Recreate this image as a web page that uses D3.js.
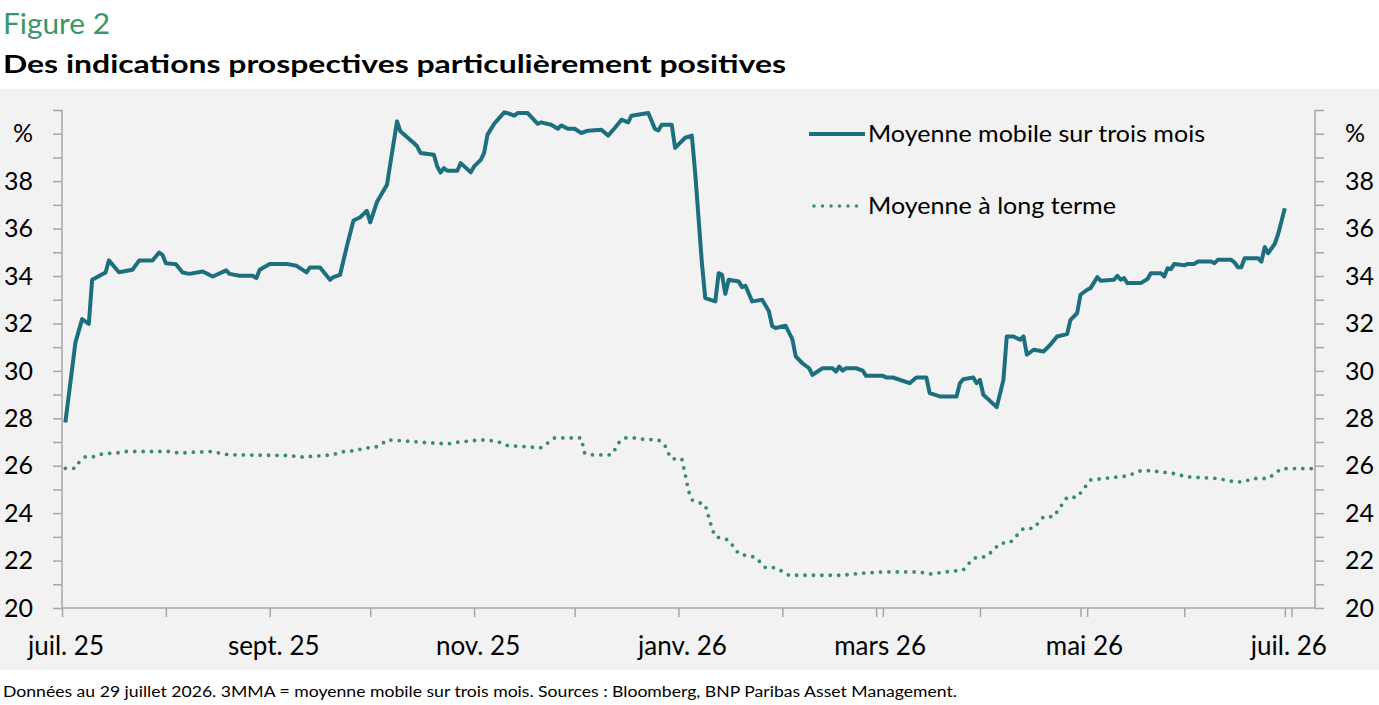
<!DOCTYPE html>
<html><head><meta charset="utf-8">
<script src="https://cdn.jsdelivr.net/npm/d3@7"></script>
<style>
html,body{margin:0;padding:0;background:#fff;}
svg{display:block;font-family:Lato,"Open Sans",sans-serif;}
</style></head>
<body>
<svg id="c" width="1379" height="705"></svg>
<script>
// ---- DATA ----
const titleSmall = "Figure 2";
const titleMain = "Des indications prospectives particulièrement positives";
const footnote = "Données au 29 juillet 2026. 3MMA = moyenne mobile sur trois mois. Sources : Bloomberg, BNP Paribas Asset Management.";
const seriesNames = ["Moyenne mobile sur trois mois", "Moyenne à long terme"];
const xTickLabels = [["2025-07-01","juil. 25"],["2025-09-01","sept. 25"],["2025-11-01","nov. 25"],["2026-01-01","janv. 26"],["2026-03-01","mars 26"],["2026-05-01","mai 26"],["2026-07-01","juil. 26"]];
const extraTicks = ["2026-03-03","2026-05-03","2026-07-03"];
const yTicks = [20,22,24,26,28,30,32,34,36,38];
const yUnitTick = 40;

const mmaData = [
["2025-07-02",27.82],["2025-07-05",31.19],["2025-07-07",32.18],["2025-07-09",31.98],["2025-07-10",33.84],
["2025-07-14",34.15],["2025-07-15",34.66],["2025-07-18",34.16],["2025-07-22",34.26],["2025-07-24",34.65],
["2025-07-28",34.65],["2025-07-30",34.99],["2025-07-31",34.89],["2025-08-01",34.54],["2025-08-04",34.50],
["2025-08-06",34.15],["2025-08-08",34.09],["2025-08-12",34.19],["2025-08-15",33.98],["2025-08-19",34.24],
["2025-08-20",34.09],["2025-08-23",34.01],["2025-08-27",34.01],["2025-08-28",33.91],["2025-08-29",34.26],
["2025-09-01",34.51],["2025-09-06",34.51],["2025-09-09",34.43],["2025-09-12",34.15],["2025-09-13",34.36],
["2025-09-16",34.36],["2025-09-19",33.84],["2025-09-20",33.95],["2025-09-22",34.05],["2025-09-24",35.24],
["2025-09-26",36.34],["2025-09-28",36.48],["2025-09-30",36.75],["2025-10-01",36.26],["2025-10-03",37.12],
["2025-10-06",37.85],["2025-10-09",40.52],["2025-10-10",40.10],["2025-10-14",39.61],["2025-10-15",39.47],
["2025-10-16",39.19],["2025-10-20",39.11],["2025-10-21",38.62],["2025-10-22",38.36],["2025-10-23",38.55],
["2025-10-24",38.44],["2025-10-27",38.44],["2025-10-28",38.76],["2025-10-31",38.37],["2025-11-01",38.62],
["2025-11-03",38.90],["2025-11-04",39.19],["2025-11-05",39.96],["2025-11-07",40.42],["2025-11-10",40.90],
["2025-11-11",40.87],["2025-11-13",40.76],["2025-11-14",40.87],["2025-11-17",40.87],["2025-11-20",40.42],
["2025-11-21",40.48],["2025-11-24",40.38],["2025-11-26",40.21],["2025-11-27",40.35],["2025-11-29",40.21],
["2025-12-01",40.21],["2025-12-03",40.03],["2025-12-05",40.13],["2025-12-09",40.17],["2025-12-11",39.92],
["2025-12-13",40.24],["2025-12-15",40.59],["2025-12-17",40.48],["2025-12-18",40.76],["2025-12-23",40.87],
["2025-12-25",40.20],["2025-12-26",40.14],["2025-12-27",40.38],["2025-12-30",40.38],["2025-12-31",39.40],
["2026-01-03",39.83],["2026-01-05",39.92],["2026-01-06",38.34],["2026-01-08",34.54],["2026-01-09",33.07],
["2026-01-12",32.93],["2026-01-13",34.12],["2026-01-14",34.05],["2026-01-15",33.25],["2026-01-16",33.84],
["2026-01-19",33.77],["2026-01-20",33.53],["2026-01-21",33.59],["2026-01-23",32.93],["2026-01-26",33.00],
["2026-01-28",32.51],["2026-01-29",31.88],["2026-01-30",31.81],["2026-02-02",31.90],["2026-02-04",31.34],
["2026-02-05",30.61],["2026-02-07",30.32],["2026-02-09",30.11],["2026-02-10",29.83],["2026-02-13",30.11],
["2026-02-16",30.11],["2026-02-17",29.97],["2026-02-18",30.18],["2026-02-19",30.01],["2026-02-20",30.11],
["2026-02-23",30.11],["2026-02-25",30.01],["2026-02-26",29.79],["2026-03-03",29.79],["2026-03-04",29.72],
["2026-03-06",29.72],["2026-03-11",29.48],["2026-03-13",29.72],["2026-03-16",29.72],["2026-03-17",29.06],
["2026-03-20",28.92],["2026-03-25",28.92],["2026-03-26",29.48],["2026-03-27",29.65],["2026-03-30",29.72],
["2026-03-31",29.48],["2026-04-01",29.62],["2026-04-02",28.99],["2026-04-06",28.47],["2026-04-08",29.62],
["2026-04-09",31.45],["2026-04-11",31.45],["2026-04-13",31.31],["2026-04-14",31.45],["2026-04-15",30.68],
["2026-04-17",30.89],["2026-04-20",30.82],["2026-04-22",31.10],["2026-04-24",31.45],["2026-04-27",31.55],
["2026-04-28",32.15],["2026-04-30",32.43],["2026-05-01",33.21],["2026-05-03",33.42],["2026-05-04",33.49],
["2026-05-06",33.95],["2026-05-07",33.80],["2026-05-11",33.84],["2026-05-12",34.01],["2026-05-13",33.84],
["2026-05-14",33.91],["2026-05-15",33.70],["2026-05-19",33.70],["2026-05-21",33.87],["2026-05-22",34.12],
["2026-05-25",34.12],["2026-05-26",33.98],["2026-05-27",34.33],["2026-05-28",34.29],["2026-05-29",34.51],
["2026-06-01",34.45],["2026-06-02",34.51],["2026-06-04",34.51],["2026-06-05",34.61],["2026-06-09",34.61],
["2026-06-10",34.54],["2026-06-11",34.68],["2026-06-15",34.68],["2026-06-16",34.57],["2026-06-17",34.37],
["2026-06-18",34.37],["2026-06-19",34.75],["2026-06-23",34.75],["2026-06-24",34.61],["2026-06-25",35.22],
["2026-06-26",34.96],["2026-06-28",35.36],["2026-06-29",35.77],["2026-07-01",36.86]
];

const ltData = [
["2025-07-02",25.89],["2025-07-05",25.89],["2025-07-06",26.13],["2025-07-08",26.38],["2025-07-11",26.38],
["2025-07-13",26.50],["2025-07-18",26.55],["2025-07-20",26.60],["2025-08-02",26.60],["2025-08-05",26.53],
["2025-08-09",26.57],["2025-08-15",26.60],["2025-08-18",26.50],["2025-08-20",26.46],["2025-09-07",26.43],
["2025-09-10",26.36],["2025-09-12",26.38],["2025-09-20",26.46],["2025-09-22",26.58],["2025-09-27",26.64],
["2025-09-29",26.75],["2025-10-02",26.76],["2025-10-04",26.86],["2025-10-06",27.09],["2025-10-11",27.05],
["2025-10-16",26.99],["2025-10-24",26.92],["2025-10-27",26.99],["2025-11-03",27.09],["2025-11-06",27.06],
["2025-11-08",27.02],["2025-11-11",26.85],["2025-11-21",26.76],["2025-11-23",26.96],["2025-11-25",27.17],
["2025-12-03",27.17],["2025-12-04",26.53],["2025-12-06",26.46],["2025-12-12",26.46],["2025-12-13",26.67],
["2025-12-14",26.95],["2025-12-16",27.17],["2025-12-19",27.17],["2025-12-21",27.12],["2025-12-26",27.09],
["2025-12-28",26.85],["2025-12-29",26.53],["2025-12-30",26.29],["2026-01-02",26.29],["2026-01-03",25.65],
["2026-01-04",24.94],["2026-01-05",24.56],["2026-01-09",24.35],["2026-01-11",23.36],["2026-01-12",23.01],
["2026-01-16",22.87],["2026-01-19",22.28],["2026-01-24",22.14],["2026-01-27",21.70],["2026-01-30",21.70],
["2026-02-03",21.38],["2026-02-19",21.38],["2026-02-24",21.46],["2026-03-03",21.52],["2026-03-14",21.52],
["2026-03-17",21.43],["2026-03-21",21.51],["2026-03-27",21.60],["2026-03-30",22.10],["2026-04-03",22.17],
["2026-04-07",22.73],["2026-04-10",22.76],["2026-04-14",23.36],["2026-04-17",23.36],["2026-04-20",23.85],
["2026-04-23",23.85],["2026-04-27",24.67],["2026-04-30",24.67],["2026-05-04",25.40],["2026-05-15",25.57],
["2026-05-19",25.79],["2026-05-22",25.79],["2026-05-30",25.65],["2026-06-01",25.54],["2026-06-11",25.46],
["2026-06-16",25.32],["2026-06-19",25.32],["2026-06-21",25.46],["2026-06-26",25.46],["2026-06-30",25.88],
["2026-07-09",25.88]
];

// ---- CHART ----
const parse = d3.timeParse("%Y-%m-%d");
const svg = d3.select("#c");
const W = 1379, H = 705;
const colMain = "#1d6f80", colLT = "#3b8b6b", axisCol = "#a6a6a6";

svg.append("rect").attr("x",0).attr("y",89).attr("width",W).attr("height",581).attr("fill","#f2f2f2");

function stretched(sel, len){ return sel.attr("textLength",len).attr("lengthAdjust","spacingAndGlyphs"); }

stretched(svg.append("text").attr("x",3).attr("y",34).attr("font-size",28).attr("fill","#3a9669").text(titleSmall),107);
stretched(svg.append("text").attr("x",3).attr("y",73).attr("font-size",25.5).attr("font-weight","bold").attr("fill","#000").text(titleMain),783);
stretched(svg.append("text").attr("x",3).attr("y",697).attr("font-size",15.5).attr("fill","#000").text(footnote),954);

const x = d3.scaleTime().domain([parse("2025-07-01"), parse("2026-07-10")]).range([62, 1315]);
const y = d3.scaleLinear().domain([20, 41]).range([608, 110]);

// y axes
const minorTicks = d3.range(20, 42, 1);
const gL = svg.append("g").attr("transform","translate(62,0)")
  .call(d3.axisLeft(y).tickValues(minorTicks).tickSize(9).tickFormat(""));
const gR = svg.append("g").attr("transform","translate(1315,0)")
  .call(d3.axisRight(y).tickValues(minorTicks).tickSize(9).tickFormat(""));
[gL,gR].forEach(g=>{
  g.select(".domain").attr("stroke",axisCol).attr("stroke-width",1.5).attr("d", `M0,${y(41)}V${y(20)}`);
  g.selectAll(".tick line").attr("stroke",axisCol).attr("stroke-width",1.5);
});

const yLab = yTicks.map(v=>({v, t:String(v)})).concat([{v:yUnitTick,t:"%"}]);
svg.append("g").selectAll("text").data(yLab).join("text")
  .attr("x",33).attr("y",d=>y(d.v)).attr("dy","0.35em").attr("text-anchor","end")
  .attr("font-size",25).attr("fill","#000").text(d=>d.t);
svg.append("g").selectAll("text").data(yLab).join("text")
  .attr("x",1345).attr("y",d=>y(d.v)).attr("dy","0.35em").attr("text-anchor","start")
  .attr("font-size",25).attr("fill","#000").text(d=>d.t);

// x axis
const monthTicks = d3.timeMonth.range(parse("2025-07-01"), parse("2026-07-02")).concat(extraTicks.map(parse));
const gX = svg.append("g").attr("transform","translate(0,608)")
  .call(d3.axisBottom(x).tickValues(monthTicks).tickSize(9).tickFormat(""));
gX.select(".domain").attr("stroke",axisCol).attr("stroke-width",1.5).attr("d","M62,0H1315");
gX.selectAll(".tick line").attr("stroke",axisCol).attr("stroke-width",1.5);

svg.append("g").selectAll("text").data(xTickLabels).join("text")
  .attr("x",d=>x(parse(d[0]))+4).attr("y",655).attr("text-anchor","middle")
  .attr("font-size",26).attr("fill","#000").text(d=>d[1]);

// lines
const line = d3.line().x(d=>x(parse(d[0]))).y(d=>y(d[1]));
svg.append("path").datum(ltData).attr("d",line).attr("fill","none")
  .attr("stroke",colLT).attr("stroke-width",3.8).attr("stroke-linecap","round")
  .attr("stroke-dasharray","0 8.4");
svg.append("path").datum(mmaData).attr("d",line).attr("fill","none")
  .attr("stroke",colMain).attr("stroke-width",4).attr("stroke-linejoin","round");

// legend
const lg = svg.append("g");
lg.append("line").attr("x1",809).attr("x2",865).attr("y1",134).attr("y2",134)
  .attr("stroke",colMain).attr("stroke-width",4);
stretched(lg.append("text").attr("x",868).attr("y",134).attr("dy","0.35em").attr("font-size",23).text(seriesNames[0]),337);
lg.append("line").attr("x1",814).attr("x2",858).attr("y1",206).attr("y2",206)
  .attr("stroke",colLT).attr("stroke-width",3.5).attr("stroke-linecap","round").attr("stroke-dasharray","0 8.5");
stretched(lg.append("text").attr("x",868).attr("y",206).attr("dy","0.35em").attr("font-size",23).text(seriesNames[1]),248);
</script>
</body></html>
